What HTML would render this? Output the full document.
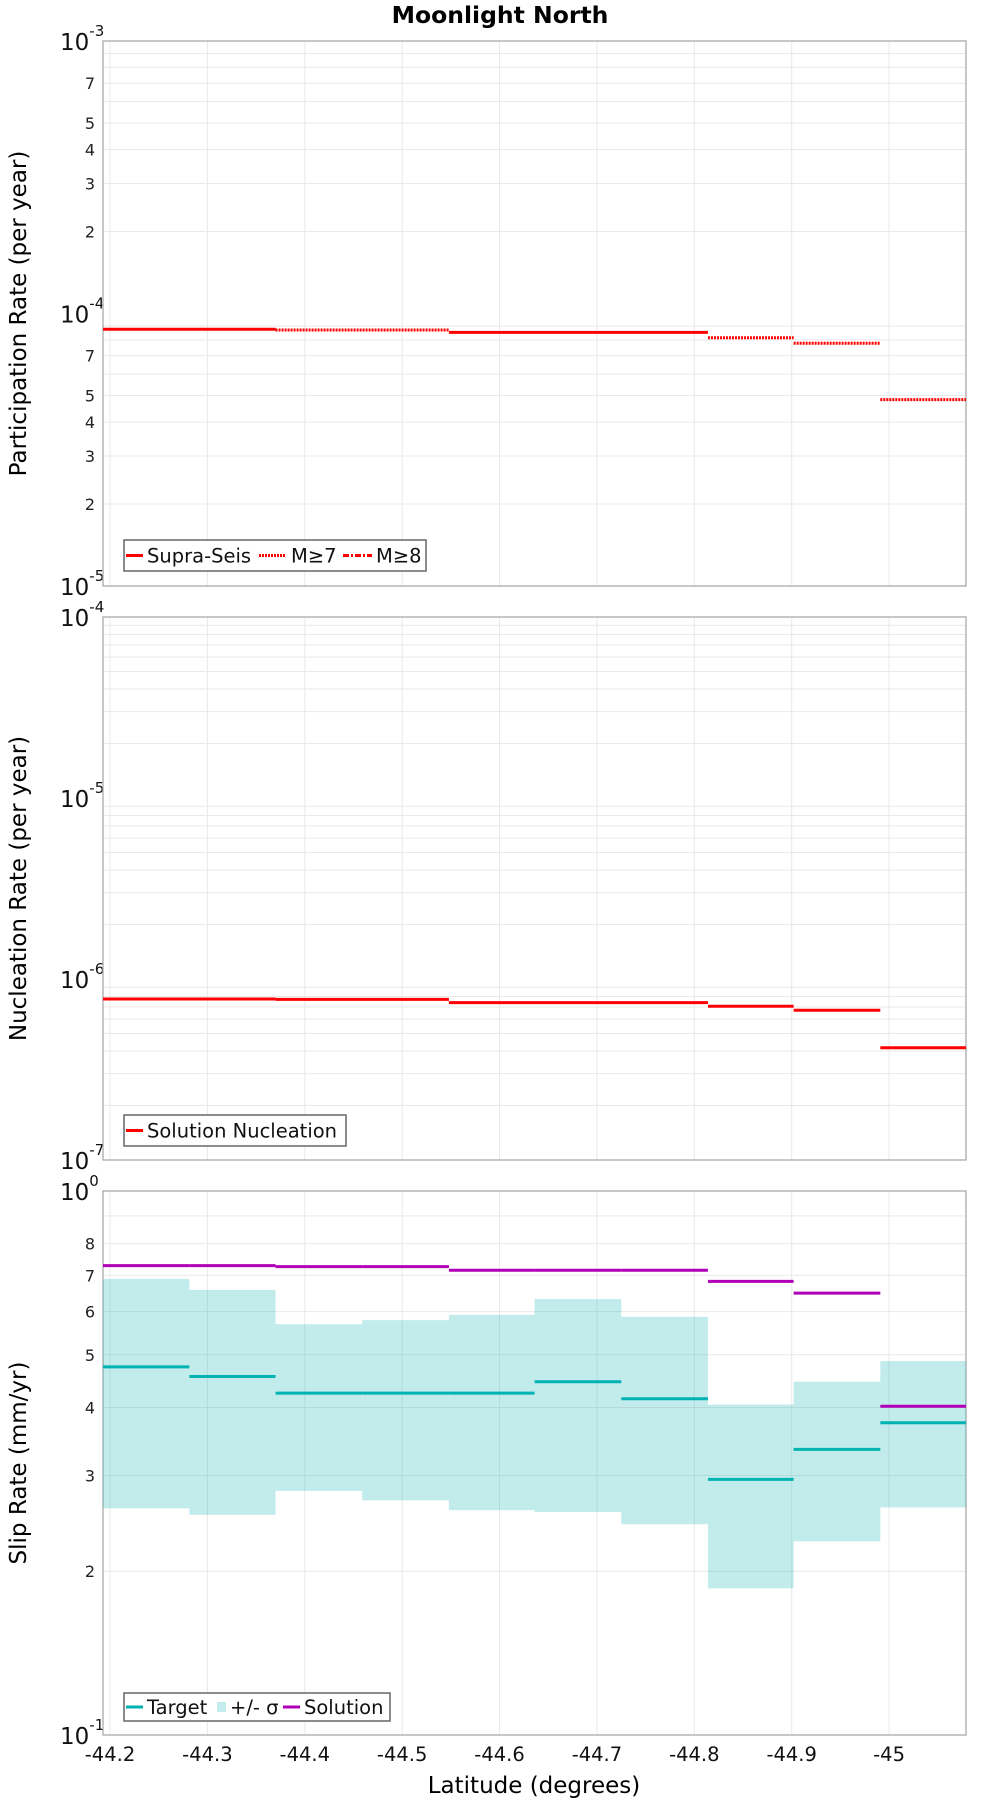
<!DOCTYPE html>
<html><head><meta charset="utf-8"><style>
html,body{margin:0;padding:0;background:#fff;}
svg{display:block;font-family:"DejaVu Sans","Liberation Sans",sans-serif;}
</style></head><body>
<svg id="chart" width="1000" height="1800" viewBox="0 0 1000 1800" xmlns="http://www.w3.org/2000/svg">
<text x="500" y="23" text-anchor="middle" font-size="23.5" font-weight="bold">Moonlight North</text>
<text x="534" y="1793" text-anchor="middle" font-size="23">Latitude (degrees)</text>
</svg>
<script>
// x domain: sub-section boundaries (latitude, degrees, as positive magnitude)
const sectionEdges = [44.1928,44.2815,44.370,44.459,44.548,44.636,44.725,44.814,44.902,44.991,45.079];
const xTicks = [44.2,44.3,44.4,44.5,44.6,44.7,44.8,44.9,45.0];
const xTickLabels = ["-44.2","-44.3","-44.4","-44.5","-44.6","-44.7","-44.8","-44.9","-45"];

// Panel 1: participation rates
const partStart = [0,2,4,7,8,9];
const partEnd   = [2,4,7,8,9,10];
const partValues = [8.75e-5,8.7e-5,8.53e-5,8.15e-5,7.78e-5,4.83e-5];
const partStyle = ["solid","dot","solid","dot","dot","dot"];

// Panel 2: nucleation
const nuclStart = [0,2,4,7,8,9];
const nuclEnd   = [2,4,7,8,9,10];
const nuclValues = [7.75e-7,7.72e-7,7.4e-7,7.07e-7,6.72e-7,4.17e-7];

// Panel 3: slip rates per section
const targetSlip = [0.475,0.456,0.425,0.425,0.425,0.446,0.415,0.295,0.335,0.375];
const sigmaUpper = [0.689,0.658,0.569,0.579,0.592,0.633,0.587,0.405,0.446,0.487];
const sigmaLower = [0.261,0.254,0.281,0.270,0.259,0.257,0.244,0.186,0.227,0.262];
const solutionSlip = [0.729,0.729,0.726,0.726,0.715,0.715,0.715,0.682,0.649,0.402];

const NS="http://www.w3.org/2000/svg";
const svg=document.getElementById('chart');
const PL=103, PR=966;
const X0=44.1928, X1=45.079;
function xs(v){return PL+(v-X0)/(X1-X0)*(PR-PL);}
function mk(tag,attrs,parent){const e=document.createElementNS(NS,tag);for(const k in attrs)e.setAttribute(k,attrs[k]);(parent||svg).appendChild(e);return e;}

function panel(top,bottom,decLo,decHi,minorLabels,title,name){
  const g=mk('g',{});
  
  
  const ys=v=>top+(decHi-Math.log10(v))/(decHi-decLo)*(bottom-top);
  xTicks.forEach((t,i)=>{
    const l=mk('line',{x1:xs(t),x2:xs(t),y1:top,y2:bottom,stroke:'#e9e9e9','stroke-width':1},g);
    
    
  });
  for(let d=decLo;d<decHi;d++){
    for(let m=2;m<=9;m++){
      const y=ys(m*Math.pow(10,d));
      const l=mk('line',{x1:PL,x2:PR,y1:y,y2:y,stroke:'#e9e9e9','stroke-width':1},g);
      
      
      if(minorLabels.indexOf(m)>=0){
        const t=mk('text',{x:95,y:y+6,'text-anchor':'end','font-size':16,fill:'#222'},g);
        t.textContent=m;
        
        
      }
    }
  }
  for(let d=decLo;d<=decHi;d++){
    const y=ys(Math.pow(10,d));
    const t=mk('text',{x:60,y:y+9,'font-size':23,fill:'#111'},g);
    
    
    t.textContent='10';
    const s=mk('tspan',{dy:-14,'font-size':15},t);
    s.textContent=String(d);
  }
  const b=mk('rect',{x:PL,y:top,width:PR-PL,height:bottom-top,fill:'none',stroke:'#aaa','stroke-width':1.3},g);
  
  
  const cy=(top+bottom)/2;
  const tt=mk('text',{x:0,y:0,'text-anchor':'middle','font-size':23,transform:`translate(26,${cy}) rotate(-90)`},g);
  tt.textContent=title;
  
  
  return {g,ys};
}

function seg(g,x1,x2,y,color,style,name){
  const a={x1:x1,x2:x2,y1:y,y2:y,stroke:color,'stroke-width':3};
  if(style==='dot')a['stroke-dasharray']='2,1';
  const l=mk('line',a,g);
  
  
}

function legend(g,x,y,w,h,items){
  const r=mk('rect',{x:x,y:y,width:w,height:h,fill:'#fff',stroke:'#666','stroke-width':1.5},g);
  
  
  items.forEach(it=>{
    if(it.kind==='line'){
      const a={x1:it.x,x2:it.x+it.w,y1:y+h/2,y2:y+h/2,stroke:it.color,'stroke-width':3};
      if(it.dash)a['stroke-dasharray']=it.dash;
      const l=mk('line',a,g);
      
      
    } else {
      const rr=mk('rect',{x:it.x,y:y+h/2-5,width:it.w,height:10,fill:it.color},g);
      
      
    }
    const t=mk('text',{x:it.tx,y:y+h/2+7,'font-size':19.5,fill:'#111'},g);
    t.textContent=it.label;
    
    
  });
}

// Panel 1
const p1=panel(41,586,-5,-3,[2,3,4,5,7],'Participation Rate (per year)','participation-panel');
partValues.forEach((v,i)=>{
  seg(p1.g,xs(sectionEdges[partStart[i]]),xs(sectionEdges[partEnd[i]]),p1.ys(v),'#ff0000',partStyle[i],'participation-rate-line');
});
legend(p1.g,124,540,302,31,[
  {kind:'line',x:126,w:17,tx:147,color:'#ff0000',label:'Supra-Seis'},
  {kind:'line',x:259,w:27,tx:291,color:'#ff0000',dash:'2,1',label:'M≥7'},
  {kind:'line',x:343,w:29,tx:376,color:'#ff0000',dash:'6,2,2,2',label:'M≥8'}]);

// Panel 2
const p2=panel(617,1160,-7,-4,[],'Nucleation Rate (per year)','nucleation-panel');
nuclValues.forEach((v,i)=>{
  seg(p2.g,xs(sectionEdges[nuclStart[i]]),xs(sectionEdges[nuclEnd[i]]),p2.ys(v),'#ff0000','solid','nucleation-rate-line');
});
legend(p2.g,124,1115,222,31,[{kind:'line',x:126,w:17,tx:147,color:'#ff0000',label:'Solution Nucleation'}]);

// Panel 3
const p3=panel(1191,1735,-1,0,[2,3,4,5,6,7,8],'Slip Rate (mm/yr)','slip-rate-panel');
sigmaUpper.forEach((u,i)=>{
  const x1=xs(sectionEdges[i]),x2=xs(sectionEdges[i+1]);
  const r=mk('rect',{x:x1,y:p3.ys(u),width:x2-x1,height:p3.ys(sigmaLower[i])-p3.ys(u),fill:'rgba(0,175,175,0.24)'},p3.g);
  
  
});
targetSlip.forEach((v,i)=>{
  seg(p3.g,xs(sectionEdges[i]),xs(sectionEdges[i+1]),p3.ys(v),'#00b2b2','solid','target-slip-line');
});
solutionSlip.forEach((v,i)=>{
  seg(p3.g,xs(sectionEdges[i]),xs(sectionEdges[i+1]),p3.ys(v),'#b000b8','solid','solution-slip-line');
});
legend(p3.g,124,1693,266,28,[
  {kind:'line',x:126,w:17,tx:147,color:'#00b2b2',label:'Target'},
  {kind:'rect',x:217,w:9,tx:230,color:'#c3ecec',label:'+/- σ'},
  {kind:'line',x:283,w:17,tx:304,color:'#b000b8',label:'Solution'}]);

// x tick labels
xTicks.forEach((t,i)=>{
  const tx=mk('text',{x:xs(t),y:1761,'text-anchor':'middle','font-size':19.5,fill:'#111'});
  tx.textContent=xTickLabels[i];
  
  
});
</script>
</body></html>
